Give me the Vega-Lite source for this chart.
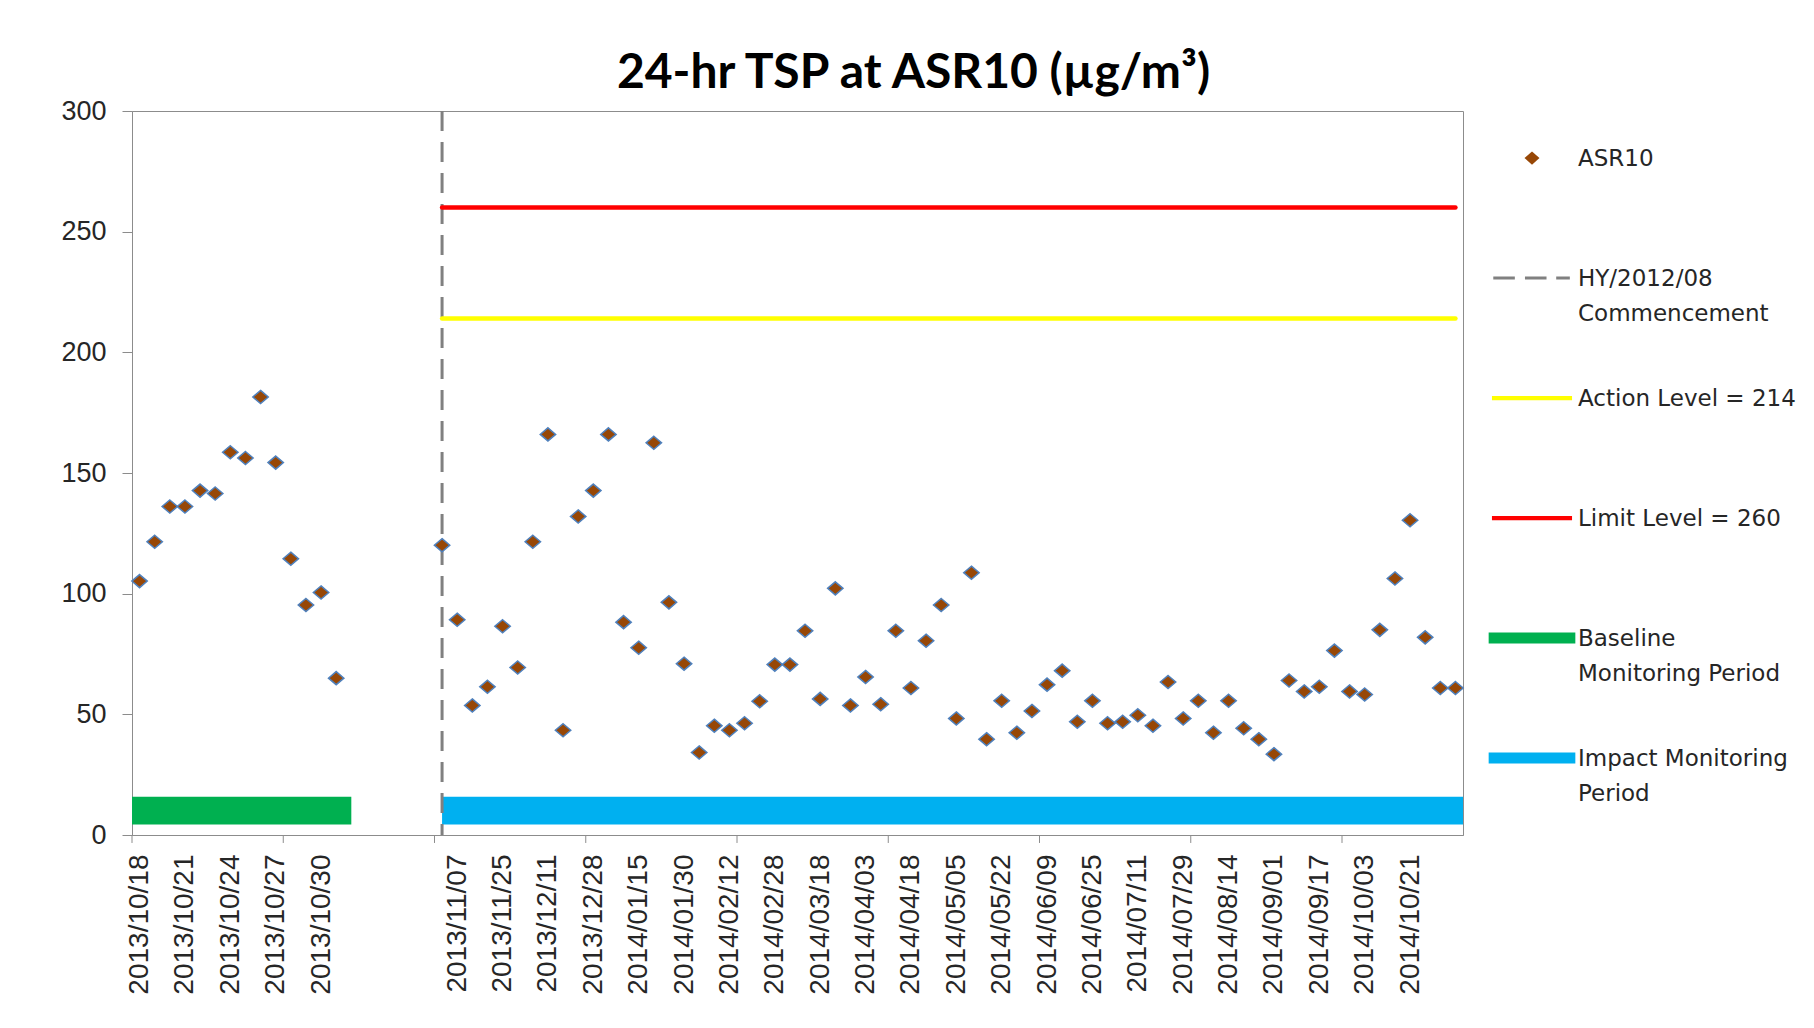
{
  "$schema": "https://vega.github.io/schema/vega-lite/v6.json",
  "width": 1331,
  "height": 724,
  "autosize": {"type": "none"},
  "padding": {"left": 132, "top": 111, "right": 351, "bottom": 193},
  "background": "white",
  "title": {
    "text": "24-hr TSP at ASR10 (µg/m³)",
    "font": "Lato",
    "fontSize": 48,
    "fontWeight": "bold",
    "color": "#000000",
    "anchor": "middle",
    "frame": "group",
    "dx": 116,
    "baseline": "alphabetic",
    "offset": -39
  },
  "config": {
    "view": {"stroke": "#8c8c8c", "strokeWidth": 1},
    "axis": {"grid": false, "title": null, "domainColor": "#8c8c8c", "tickColor": "#8c8c8c", "labelColor": "#262626", "labelFont": "Liberation Sans", "labelOverlap": false},
    "style": {"guide-label": {"lineHeight": 35}}
  },
  "datasets": {
    "tsp": [
      {"series": "ASR10", "idx": 0, "value": 105.2},
      {"series": "ASR10", "idx": 1, "value": 121.5},
      {"series": "ASR10", "idx": 2, "value": 136.1},
      {"series": "ASR10", "idx": 3, "value": 136.1},
      {"series": "ASR10", "idx": 4, "value": 142.7},
      {"series": "ASR10", "idx": 5, "value": 141.5},
      {"series": "ASR10", "idx": 6, "value": 158.6},
      {"series": "ASR10", "idx": 7, "value": 156.2},
      {"series": "ASR10", "idx": 8, "value": 181.5},
      {"series": "ASR10", "idx": 9, "value": 154.3},
      {"series": "ASR10", "idx": 10, "value": 114.5},
      {"series": "ASR10", "idx": 11, "value": 95.3},
      {"series": "ASR10", "idx": 12, "value": 100.5},
      {"series": "ASR10", "idx": 13, "value": 65.0},
      {"series": "ASR10", "idx": 20, "value": 120.1},
      {"series": "ASR10", "idx": 21, "value": 89.2},
      {"series": "ASR10", "idx": 22, "value": 53.7},
      {"series": "ASR10", "idx": 23, "value": 61.4},
      {"series": "ASR10", "idx": 24, "value": 86.5},
      {"series": "ASR10", "idx": 25, "value": 69.4},
      {"series": "ASR10", "idx": 26, "value": 121.5},
      {"series": "ASR10", "idx": 27, "value": 166.0},
      {"series": "ASR10", "idx": 28, "value": 43.4},
      {"series": "ASR10", "idx": 29, "value": 132.0},
      {"series": "ASR10", "idx": 30, "value": 142.7},
      {"series": "ASR10", "idx": 31, "value": 166.0},
      {"series": "ASR10", "idx": 32, "value": 88.2},
      {"series": "ASR10", "idx": 33, "value": 77.6},
      {"series": "ASR10", "idx": 34, "value": 162.5},
      {"series": "ASR10", "idx": 35, "value": 96.4},
      {"series": "ASR10", "idx": 36, "value": 71.0},
      {"series": "ASR10", "idx": 37, "value": 34.2},
      {"series": "ASR10", "idx": 38, "value": 45.3},
      {"series": "ASR10", "idx": 39, "value": 43.4},
      {"series": "ASR10", "idx": 40, "value": 46.3},
      {"series": "ASR10", "idx": 41, "value": 55.4},
      {"series": "ASR10", "idx": 42, "value": 70.6},
      {"series": "ASR10", "idx": 43, "value": 70.6},
      {"series": "ASR10", "idx": 44, "value": 84.6},
      {"series": "ASR10", "idx": 45, "value": 56.4},
      {"series": "ASR10", "idx": 46, "value": 102.2},
      {"series": "ASR10", "idx": 47, "value": 53.7},
      {"series": "ASR10", "idx": 48, "value": 65.5},
      {"series": "ASR10", "idx": 49, "value": 54.2},
      {"series": "ASR10", "idx": 50, "value": 84.6},
      {"series": "ASR10", "idx": 51, "value": 60.9},
      {"series": "ASR10", "idx": 52, "value": 80.5},
      {"series": "ASR10", "idx": 53, "value": 95.3},
      {"series": "ASR10", "idx": 54, "value": 48.3},
      {"series": "ASR10", "idx": 55, "value": 108.7},
      {"series": "ASR10", "idx": 56, "value": 39.7},
      {"series": "ASR10", "idx": 57, "value": 55.6},
      {"series": "ASR10", "idx": 58, "value": 42.4},
      {"series": "ASR10", "idx": 59, "value": 51.4},
      {"series": "ASR10", "idx": 60, "value": 62.3},
      {"series": "ASR10", "idx": 61, "value": 68.1},
      {"series": "ASR10", "idx": 62, "value": 46.9},
      {"series": "ASR10", "idx": 63, "value": 55.6},
      {"series": "ASR10", "idx": 64, "value": 46.3},
      {"series": "ASR10", "idx": 65, "value": 46.9},
      {"series": "ASR10", "idx": 66, "value": 49.6},
      {"series": "ASR10", "idx": 67, "value": 45.3},
      {"series": "ASR10", "idx": 68, "value": 63.4},
      {"series": "ASR10", "idx": 69, "value": 48.3},
      {"series": "ASR10", "idx": 70, "value": 55.6},
      {"series": "ASR10", "idx": 71, "value": 42.4},
      {"series": "ASR10", "idx": 72, "value": 55.6},
      {"series": "ASR10", "idx": 73, "value": 44.2},
      {"series": "ASR10", "idx": 74, "value": 39.7},
      {"series": "ASR10", "idx": 75, "value": 33.5},
      {"series": "ASR10", "idx": 76, "value": 64.0},
      {"series": "ASR10", "idx": 77, "value": 59.5},
      {"series": "ASR10", "idx": 78, "value": 61.4},
      {"series": "ASR10", "idx": 79, "value": 76.4},
      {"series": "ASR10", "idx": 80, "value": 59.5},
      {"series": "ASR10", "idx": 81, "value": 58.2},
      {"series": "ASR10", "idx": 82, "value": 85.0},
      {"series": "ASR10", "idx": 83, "value": 106.3},
      {"series": "ASR10", "idx": 84, "value": 130.4},
      {"series": "ASR10", "idx": 85, "value": 81.9},
      {"series": "ASR10", "idx": 86, "value": 60.9},
      {"series": "ASR10", "idx": 87, "value": 60.9}
    ],
    "periods": [
      {"period": "Baseline Monitoring Period", "start": -0.5, "end": 14, "low": 4.4, "high": 15.9},
      {"period": "Impact Monitoring Period", "start": 20, "end": 87.5, "low": 4.4, "high": 15.9}
    ],
    "levels": [
      {"level": "Action Level", "value": 214, "start": 20, "end": 87},
      {"level": "Limit Level", "value": 260, "start": 20, "end": 87}
    ],
    "events": [
      {"event": "HY/2012/08 Commencement", "idx": 20}
    ],
    "xticks": [
      {"boundary": -0.5}, {"boundary": 9.5}, {"boundary": 19.5}, {"boundary": 29.5}, {"boundary": 39.5},
      {"boundary": 49.5}, {"boundary": 59.5}, {"boundary": 69.5}, {"boundary": 79.5}
    ]
  },
  "layer": [
    {
      "data": {"name": "periods"},
      "transform": [{"filter": "datum.period == 'Baseline Monitoring Period'"}],
      "mark": {"type": "rect", "color": "#00b050"},
      "encoding": {
        "x": {
          "field": "start", "type": "quantitative",
          "scale": {"domain": [-0.5, 87.5], "nice": false, "zero": false},
          "axis": {
            "values": [0, 3, 6, 9, 12, 15, 18, 21, 24, 27, 30, 33, 36, 39, 42, 45, 48, 51, 54, 57, 60, 63, 66, 69, 72, 75, 78, 81, 84],
            "labelExpr": "['2013/10/18','2013/10/21','2013/10/24','2013/10/27','2013/10/30','','','2013/11/07','2013/11/25','2013/12/11','2013/12/28','2014/01/15','2014/01/30','2014/02/12','2014/02/28','2014/03/18','2014/04/03','2014/04/18','2014/05/05','2014/05/22','2014/06/09','2014/06/25','2014/07/11','2014/07/29','2014/08/14','2014/09/01','2014/09/17','2014/10/03','2014/10/21'][round(datum.value / 3)]",
            "labelAngle": -90,
            "labelAlign": "right",
            "labelBaseline": "middle",
            "labelFontSize": 28,
            "labelPadding": 11,
            "labelOverlap": false,
            "labelBound": false,
            "labelFlush": false,
            "ticks": true,
            "tickSize": 8,
            "tickOpacity": 0,
            "title": null
          }
        },
        "x2": {"field": "end"},
        "y": {
          "field": "low", "type": "quantitative",
          "scale": {"domain": [0, 300], "nice": false, "zero": true},
          "axis": {
            "values": [0, 50, 100, 150, 200, 250, 300],
            "labelFontSize": 27,
            "tickSize": 10,
            "labelPadding": 16,
            "title": null
          }
        },
        "y2": {"field": "high"}
      }
    },
    {
      "data": {"name": "periods"},
      "transform": [{"filter": "datum.period == 'Impact Monitoring Period'"}],
      "mark": {"type": "rect", "color": "#00b0f0"},
      "encoding": {
        "x": {"field": "start", "type": "quantitative"},
        "x2": {"field": "end"},
        "y": {"field": "low", "type": "quantitative"},
        "y2": {"field": "high"}
      }
    },
    {
      "data": {"name": "xticks"},
      "mark": {"type": "rule", "color": "#8c8c8c", "strokeWidth": 1},
      "encoding": {
        "x": {"field": "boundary", "type": "quantitative"},
        "y": {"datum": 0, "type": "quantitative"},
        "y2": {"datum": -3.3}
      }
    },
    {
      "data": {"name": "events"},
      "mark": {"type": "rule", "color": "#808080", "strokeWidth": 3, "strokeDash": [20, 11]},
      "encoding": {
        "x": {"field": "idx", "type": "quantitative"}
      }
    },
    {
      "data": {"name": "levels"},
      "transform": [{"filter": "datum.level == 'Action Level'"}],
      "mark": {"type": "rule", "color": "#ffff00", "strokeWidth": 4.5, "strokeCap": "round"},
      "encoding": {
        "x": {"field": "start", "type": "quantitative"},
        "x2": {"field": "end"},
        "y": {"field": "value", "type": "quantitative"}
      }
    },
    {
      "data": {"name": "levels"},
      "transform": [{"filter": "datum.level == 'Limit Level'"}],
      "mark": {"type": "rule", "color": "#ff0000", "strokeWidth": 4.5, "strokeCap": "round"},
      "encoding": {
        "x": {"field": "start", "type": "quantitative"},
        "x2": {"field": "end"},
        "y": {"field": "value", "type": "quantitative"}
      }
    },
    {
      "data": {"name": "tsp"},
      "mark": {"type": "point", "filled": true, "opacity": 1, "color": "#974706", "stroke": "#4f81bd", "strokeWidth": 1.5, "shape": "M0,-0.85L1,0L0,0.85L-1,0Z", "size": 237},
      "encoding": {
        "x": {"field": "idx", "type": "quantitative"},
        "y": {"field": "value", "type": "quantitative"}
      }
    },
    {
      "data": {"name": "tsp"},
      "mark": {"type": "point", "filled": true, "opacity": 1, "size": 0.01},
      "encoding": {
        "x": {"field": "idx", "type": "quantitative"},
        "y": {"field": "value", "type": "quantitative"},
        "color": {
          "field": "series", "type": "nominal",
          "scale": {
            "domain": ["ASR10", "HY/2012/08|Commencement", "Action Level = 214", "Limit Level = 260", "Baseline|Monitoring Period", "Impact Monitoring|Period"],
            "range": ["#974706", "#808080", "#ffff00", "#ff0000", "#00b050", "#00b0f0"]
          },
          "legend": {
            "title": null, "orient": "none", "legendX": 1356, "legendY": 11,
            "symbolSize": 7744, "rowPadding": 0, "padding": 0, "symbolStrokeWidth": 0,
            "labelFont": "DejaVu Sans", "labelFontSize": 23, "labelColor": "#262626", "labelLimit": 500, "labelOffset": 2,
            "labelBaseline": "alphabetic", "symbolOpacity": 1,
            "labelExpr": "split(datum.label, '|')"
          }
        },
        "shape": {
          "field": "series", "type": "nominal",
          "scale": {
            "domain": ["ASR10", "HY/2012/08|Commencement", "Action Level = 214", "Limit Level = 260", "Baseline|Monitoring Period", "Impact Monitoring|Period"],
            "range": [
              "M0,-1.2M0,1.516M0,-0.33L0.17,-0.18L0,-0.03L-0.17,-0.18Z",
              "M0,-1.2M0,1.516M-0.88,-0.215L-0.39,-0.215L-0.39,-0.145L-0.88,-0.145Z M-0.16,-0.215L0.33,-0.215L0.33,-0.145L-0.16,-0.145Z M0.55,-0.215L0.86,-0.215L0.86,-0.145L0.55,-0.145Z",
              "M0,-1.2M0,1.516M-0.91,-0.23L0.91,-0.23L0.91,-0.13L-0.91,-0.13Z",
              "M0,-1.2M0,1.516M-0.91,-0.23L0.91,-0.23L0.91,-0.13L-0.91,-0.13Z",
              "M0,-1.2M0,1.516M-0.985,-0.305L0.985,-0.305L0.985,-0.055L-0.985,-0.055Z",
              "M0,-1.2M0,1.516M-0.985,-0.305L0.985,-0.305L0.985,-0.055L-0.985,-0.055Z"
            ]
          },
          "legend": {
            "title": null, "orient": "none", "legendX": 1356, "legendY": 11,
            "symbolSize": 7744, "rowPadding": 0, "padding": 0, "symbolStrokeWidth": 0,
            "labelFont": "DejaVu Sans", "labelFontSize": 23, "labelColor": "#262626", "labelLimit": 500, "labelOffset": 2,
            "labelBaseline": "alphabetic", "symbolOpacity": 1,
            "labelExpr": "split(datum.label, '|')"
          }
        }
      }
    }
  ]
}
